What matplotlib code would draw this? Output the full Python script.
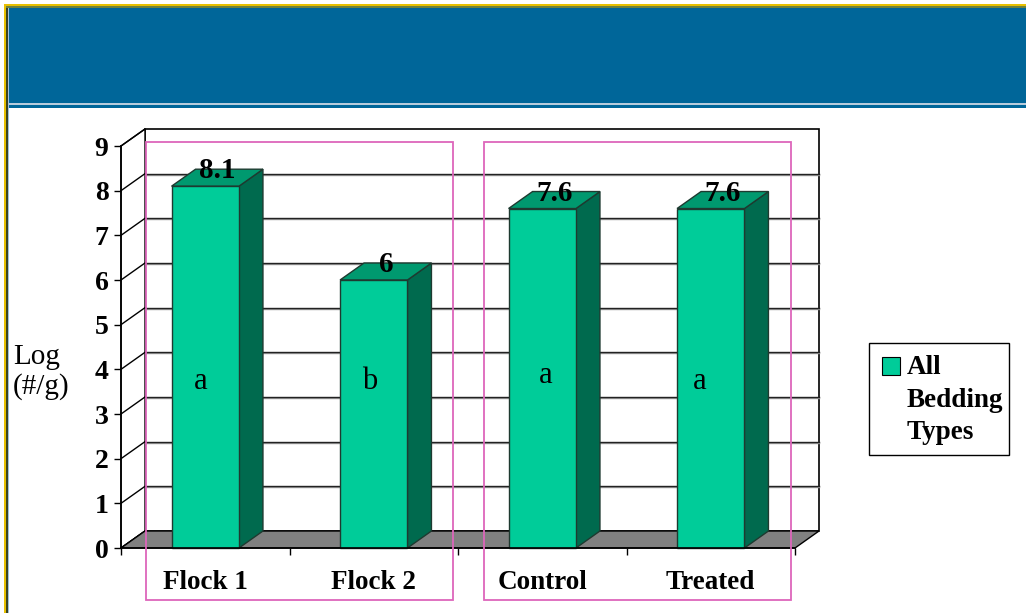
import numpy as np
import matplotlib.pyplot as plt
from matplotlib.patches import Rectangle, Polygon

## data
categories = ['Flock 1', 'Flock 2', 'Control', 'Treated']
values = [8.1, 6, 7.6, 7.6]
letters = ['a', 'b', 'a', 'a']
letter_x = [-0.027, 0.978, 2.022, 2.936]
letter_y = [3.55, 3.55, 3.7, 3.55]
series_name = 'All\nBedding\nTypes'
yticks = list(range(10))
groups = [(-0.352, 1.470), (1.654, 3.476)]   # pink boxes around the pairs

W, H = 1026, 613
plt.rcParams['font.family'] = ['Liberation Serif', 'DejaVu Serif']
fig = plt.figure(figsize=(W / 100, H / 100), dpi=100)

# slide background, pixel coords
bg = fig.add_axes([0, 0, 1, 1], zorder=0)
bg.set_xlim(0, W)
bg.set_ylim(H, 0)
bg.axis('off')
bg.add_patch(Rectangle((4, 4), W, 2, fc='#E8C000', ec='none'))
bg.add_patch(Rectangle((6, 6), W, 2, fc='#6E8240', ec='none'))
bg.add_patch(Rectangle((8, 8), W, 95, fc='#006699', ec='none'))
bg.add_patch(Rectangle((8, 103), W, 2, fc='#B8CCDC', ec='none'))
bg.add_patch(Rectangle((8, 105), W, 3, fc='#006699', ec='none'))
bg.add_patch(Rectangle((4, 4), 2, H, fc='#E8C000', ec='none'))
bg.add_patch(Rectangle((6, 8), 1.5, H, fc='#3A4424', ec='none'))
bg.add_patch(Rectangle((7.5, 8), 1.5, H, fc='#9FC0DF', ec='none'))

# legend (drawn by hand, square sits next to the first line)
bg.add_patch(Rectangle((869, 343), 140, 112, fc='white', ec='black', lw=1))
bg.add_patch(Rectangle((882, 357), 18, 18, fc='#00CC99', ec='black', lw=0.8))
bg.text(907, 355, series_name, fontsize=19.5, fontweight='bold', va='top', ha='left',
        linespacing=1.4)

# y label
bg.text(13, 344, 'Log\n(#/g)', fontsize=21, va='top', ha='left', linespacing=1.15)

# main chart
ax = fig.add_axes([121 / W, 65 / H, 674 / W, 402 / H], zorder=1)
ax.set_xlim(-0.5, 3.5)
ax.set_ylim(0, 9)
ax.patch.set_alpha(0)

ddx = 24 / 674 * 4
ddy = 17 / 402 * 9
x0, x1 = -0.5, 3.5
top = yticks[-1]

# back wall + left wall
ax.add_patch(Rectangle((x0 + ddx, ddy), x1 - x0, top, fc='white', ec='black', lw=1.2, zorder=1, clip_on=False))
ax.add_patch(Polygon([(x0, 0), (x0 + ddx, ddy), (x0 + ddx, top + ddy), (x0, top)],
                     fc='white', ec='black', lw=1, zorder=1, clip_on=False))
for y in yticks:
    if 0 < y < top:
        ax.plot([x0 + ddx, x1 + ddx], [y + ddy - 0.025] * 2, color='#999999', lw=1, zorder=1.1, clip_on=False)
        ax.plot([x0 + ddx, x1 + ddx], [y + ddy] * 2, color='#222222', lw=1, zorder=1.2, clip_on=False)
    ax.plot([x0, x0 + ddx], [y, y + ddy], color='black', lw=1, zorder=1.2, clip_on=False)

# floor
ax.add_patch(Polygon([(x0, 0), (x1, 0), (x1 + ddx, ddy), (x0 + ddx, ddy)],
                     fc='#808080', ec='black', lw=1, zorder=1.5, clip_on=False))

# 3d bars
bw = 0.4
edge = '#1E3A30'
for i, v in enumerate(values):
    l, r = i - bw / 2, i + bw / 2
    ax.add_patch(Polygon([(r, 0), (r + ddx, ddy), (r + ddx, v + ddy), (r, v)],
                         fc='#006A4E', ec=edge, lw=1, zorder=3, clip_on=False))
    ax.add_patch(Polygon([(l, v), (r, v), (r + ddx, v + ddy), (l + ddx, v + ddy)],
                         fc='#00996F', ec=edge, lw=1, zorder=3, clip_on=False))
    ax.add_patch(Rectangle((l, 0), bw, v, fc='#00CC99', ec=edge, lw=1, zorder=3.1, clip_on=False))
    ax.annotate(f'{v:g}', xy=(i + ddx / 2, v), xytext=(0, 8), textcoords='offset pixels',
                ha='center', va='baseline', fontsize=21, fontweight='bold', zorder=5)

for t, lx, ly in zip(letters, letter_x, letter_y):
    ax.text(lx, ly, t, fontsize=22, ha='center', va='baseline', zorder=5)

# pink group boxes
for gl, gr in groups:
    ax.add_patch(Rectangle((gl, -1.164), gr - gl, 9.09 + 1.164, fill=False, ec='#DD66BB',
                           lw=1.3, zorder=6, clip_on=False))

# axes
for s in ['top', 'right']:
    ax.spines[s].set_visible(False)
for s in ['left', 'bottom']:
    ax.spines[s].set_linewidth(1.2)
    ax.spines[s].set_zorder(4)
ax.set_yticks(yticks)
ax.set_yticklabels([str(y) for y in yticks], fontsize=20, fontweight='bold')
ax.tick_params(axis='y', length=5, width=1, pad=4)
ax.set_xticks(range(len(categories)))
ax.set_xticklabels(categories, fontsize=19.5, fontweight='bold')
ax.set_xticks(np.arange(-0.5, len(categories), 1), minor=True)
ax.tick_params(axis='x', which='major', length=0, pad=16)
ax.tick_params(axis='x', which='minor', length=5, width=1)

plt.savefig('out.png', dpi=100)
